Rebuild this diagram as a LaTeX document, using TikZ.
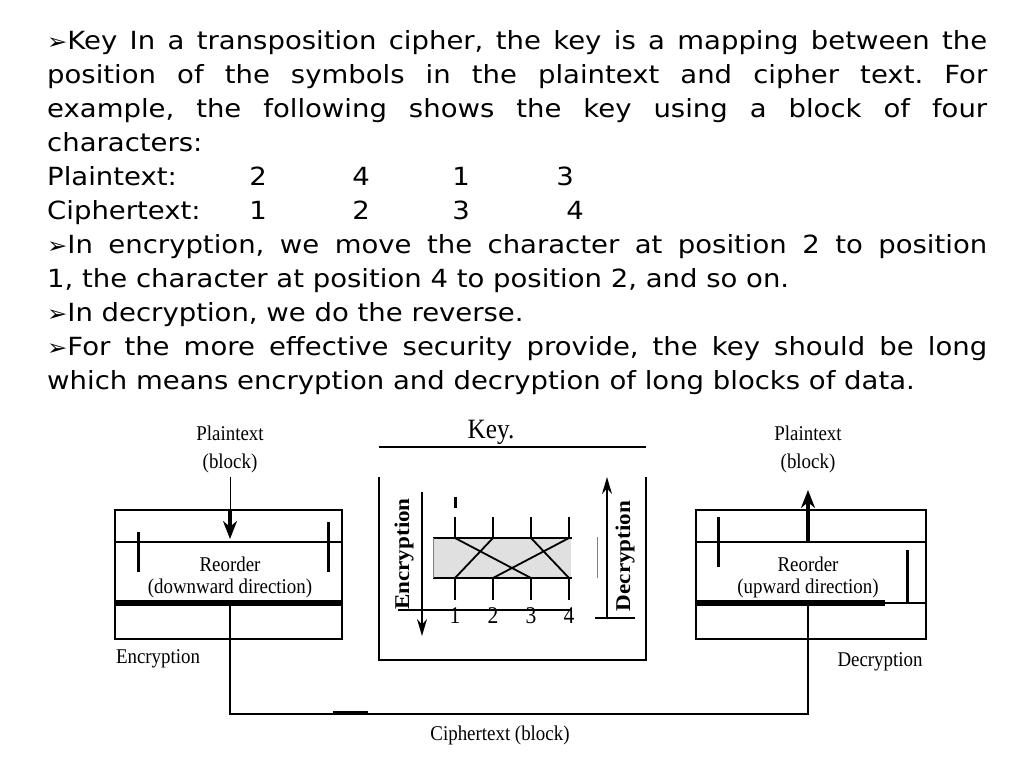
\documentclass[tikz,border=0pt]{standalone}
\usepackage{fontspec}
\setmainfont[FakeStretch=1.1]{DejaVu Sans}
\newfontfamily\figfont[FakeStretch=0.9]{Liberation Serif}
\newfontfamily\keyfont[FakeStretch=1.1]{Liberation Serif}
\usetikzlibrary{arrows.meta}
\tolerance=10000
\frenchspacing

\newcommand{\bul}{{\fontsize{22}{22}\selectfont ➢}}

\tikzset{
  bodytext/.style={anchor=north west, inner sep=0pt, text width=940pt, align=justify,
    font=\fontsize{25}{34}\selectfont},
  rowtext/.style={anchor=base, inner sep=0pt, font=\fontsize{25}{34}\selectfont},
  figtext/.style={inner sep=1pt, align=center, font=\figfont\fontsize{21}{22}\selectfont},
  dirtext/.style={inner sep=0pt, rotate=90, font=\keyfont\bfseries\fontsize{21}{22}\selectfont},
  blockline/.style={line width=1.4pt},
  keyline/.style={line width=1.8pt},
  band/.style={line width=6pt},
  tick/.style={line width=3pt},
  fatarrow/.style={line width=3.2pt, -{Stealth[length=18pt,width=14pt]}},
  keyarrow/.style={line width=1.4pt, -{Stealth[length=17pt,width=10pt]}},
}

\begin{document}
\begin{tikzpicture}[x=1pt, y=-1pt]
    \useasboundingbox (0,0) rectangle (1024,768);

    % Text above the figure
    \node[bodytext] (para1) at (47,30) {\bul Key In a transposition cipher, the key is a mapping between the\linebreak
      position of the symbols in the plaintext and cipher text. For\linebreak
      example, the following shows the key using a block of four\linebreak
      characters:};

    % Key rows
    \node[rowtext, anchor=base west] (ptrow) at (47,185) {Plaintext:};
    \node[rowtext, anchor=base west] (ctrow) at (47,219) {Ciphertext:};
    \foreach \d/\x [count=\i] in {2/258,4/361,1/461,3/565}
        \node[rowtext] (pt\i) at (\x,185) {\d};
    \foreach \d/\x [count=\i] in {1/258,2/361,3/461,4/575}
        \node[rowtext] (ct\i) at (\x,219) {\d};

    \node[bodytext] (para2) at (47,234) {\bul In encryption, we move the character at position 2 to position\linebreak
      1, the character at position 4 to position 2, and so on.\par
      \bul In decryption, we do the reverse.\par
      \bul For the more effective security provide, the key should be long\linebreak
      which means encryption and decryption of long blocks of data.};

    % Encryption block
    \draw[blockline] (115,510) rectangle (342,639);
    \draw[blockline] (115,542) -- (342,542);
    \draw[band] (115,603) -- (342,603);
    \draw[tick] (138,532) -- (138,572);
    \draw[tick] (328,522) -- (328,572);
    \node[figtext, font=\figfont\fontsize{21}{28}\selectfont] (encpt) at (230,449) {Plaintext\\(block)};
    \node[figtext] (encrd) at (230,577) {Reorder\\(downward direction)};
    \node[figtext] (enc) at (158,659) {Encryption};
    \coordinate (encin) at (230,510);
    \coordinate (enchead) at (230,539);
    \draw[line width=1pt] ([yshift=-3pt]encpt.south) -- (encin);
    \draw[fatarrow] (encin) -- (enchead);

    % Decryption block
    \draw[blockline] (696,510) rectangle (926,639);
    \draw[blockline] (696,542) -- (926,542);
    \draw[band] (696,603) -- (885,603);
    \draw[blockline] (885,603) -- (926,603);
    \draw[tick] (718,517) -- (718,567);
    \draw[tick] (907,550) -- (907,603);
    \node[figtext, font=\figfont\fontsize{21}{28}\selectfont] (decpt) at (808,449) {Plaintext\\(block)};
    \node[figtext] (decrd) at (808,577) {Reorder\\(upward direction)};
    \node[figtext] (dec) at (880,662) {Decryption};
    \coordinate (decin) at (808,542);
    \coordinate (dechead) at (808,490);
    \draw[fatarrow] (decin) -- (dechead);

    % Ciphertext link
    \coordinate (encout) at (230,603);
    \coordinate (decout) at (808,603);
    \coordinate (ctl) at (230,714);
    \coordinate (ctr) at (808,714);
    \draw[blockline] (encout) -- (ctl) -- (ctr) -- (decout);
    \draw[tick] (333,712.5) -- (368,712.5);
    \node[figtext] (ctext) at (500,735) {Ciphertext (block)};

    % Key box
    \node[figtext, font=\figfont\fontsize{28}{30}\selectfont] (key) at (491,432) {Key.};
    \draw[blockline] (379,447) -- (646,447);
    \draw[blockline] (379,477) -- (379,660) -- (646,660) -- (646,477);
    \fill[black!12] (433,538) rectangle (571,578);
    \draw[keyline] (433,538) -- (572,538);
    \draw[keyline] (433,578) -- (572,578);
    \draw[gray, line width=1pt] (433,538) -- (433,578);
    \foreach \x [count=\i] in {455,493,531,569} {
        \draw[keyline] (\x,517) -- (\x,538);
        \draw[keyline] (\x,578) -- (\x,600);
        \node[figtext, font=\figfont\fontsize{24}{24}\selectfont] (k\i) at (\x,616) {\i};
    }
    \draw[keyline] (455,538) -- (531,578);
    \draw[keyline] (493,538) -- (455,578);
    \draw[keyline] (531,538) -- (569,578);
    \draw[keyline] (569,538) -- (493,578);
    \draw[tick] (455,497) -- (455,508);
    \draw[blockline] (398,610) -- (572,610);

    % Direction arrows
    \draw[keyarrow] (422,492) -- (422,636);
    \node[dirtext] (encdir) at (404,554) {Encryption};
    \draw[keyarrow] (607,618) -- (607,477);
    \draw[blockline] (595,618) -- (635,618);
    \node[dirtext] (decdir) at (625,556) {Decryption};
    \draw[gray, line width=1pt] (597,537) -- (597,578);
\end{tikzpicture}
\end{document}
